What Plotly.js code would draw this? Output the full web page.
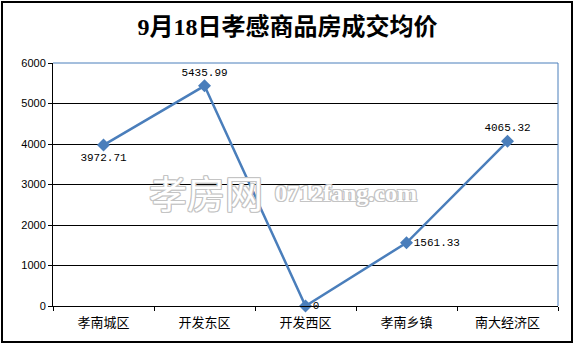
<!DOCTYPE html>
<html>
<head>
<meta charset="utf-8">
<script src="https://cdn.plot.ly/plotly-3.0.1.min.js"></script>
<style>html,body{margin:0;padding:0;background:#fff;}#chart{width:575px;height:344px;}</style>
</head>
<body>
<div id="chart"></div>
<script>
const titleText = "9月18日孝感商品房成交均价";
const categories = ["孝南城区", "开发东区", "开发西区", "孝南乡镇", "南大经济区"];
const avgPrice = [3972.71, 5435.99, 0, 1561.33, 4065.32];
const labelPositions = ["bottom center", "top center", "middle right", "middle right", "top center"];
const yTicks = [0, 1000, 2000, 3000, 4000, 5000, 6000];
const watermarkCN = "孝房网";
const watermarkEN = "0712fang.com";

const blue = "#4A7EBB";
const outline = "1px 1px 0 #c4c4c4, -1px -1px 0 #c4c4c4, 1px -1px 0 #c4c4c4, -1px 1px 0 #c4c4c4, 0 1px 0 #c4c4c4, 0 -1px 0 #c4c4c4, 1px 0 0 #c4c4c4, -1px 0 0 #c4c4c4";

const trace = {
  type: "scatter",
  mode: "lines+markers+text",
  x: categories,
  y: avgPrice,
  text: avgPrice.map(v => String(v)),
  texttemplate: "%{text}",
  textposition: labelPositions,
  textfont: {family: "Liberation Mono, DejaVu Sans Mono, monospace", size: 11, color: "#000"},
  line: {color: blue, width: 2.5},
  marker: {symbol: "diamond", size: 10, color: blue},
  cliponaxis: false,
  hoverinfo: "skip"
};

const layout = {
  width: 575, height: 344,
  margin: {l: 53, r: 17, t: 63, b: 38},
  paper_bgcolor: "#fff", plot_bgcolor: "#fff",
  showlegend: false,
  title: {
    text: titleText,
    font: {family: "Liberation Serif, Noto Sans CJK SC, serif", size: 24, color: "#000", weight: "bold"},
    x: 0.5, xanchor: "center", y: 1 - 27/344, yanchor: "middle"
  },
  xaxis: {
    type: "category",
    range: [-0.5, categories.length - 0.5],
    tickson: "boundaries",
    ticks: "outside", ticklen: 4, tickcolor: "#000", tickwidth: 1,
    ticklabelstandoff: 4,
    showline: true, linecolor: "#000", linewidth: 1,
    showgrid: false, zeroline: false,
    tickfont: {family: "Noto Sans CJK SC, sans-serif", size: 13, color: "#000"},
    fixedrange: true
  },
  yaxis: {
    range: [0, 6000],
    tickvals: yTicks,
    ticks: "outside", ticklen: 4, tickcolor: "#000", tickwidth: 1,
    showline: true, linecolor: "#000", linewidth: 1,
    showgrid: true, gridcolor: "#000", gridwidth: 1,
    zeroline: false,
    tickfont: {family: "Liberation Sans, Arial, sans-serif", size: 11, color: "#000"},
    fixedrange: true
  },
  shapes: [
    {type: "line", xref: "paper", yref: "paper", x0: 0, x1: 1, y0: 1, y1: 1, line: {color: blue, width: 1}},
    {type: "line", xref: "paper", yref: "paper", x0: 1, x1: 1, y0: 0, y1: 1, line: {color: blue, width: 1}},
    {type: "rect", xref: "paper", yref: "paper",
     x0: (2 - 53) / 505, x1: (572 - 53) / 505,
     y0: (306 - 342) / 243, y1: (306 - 2) / 243,
     line: {color: "#000", width: 2}, layer: "above"}
  ],
  annotations: [
    {text: watermarkCN, xref: "paper", yref: "paper", x: (147 - 53) / 505, y: (306 - 191) / 243,
     xanchor: "left", yanchor: "middle", showarrow: false,
     font: {family: "Noto Sans CJK SC, sans-serif", size: 38, color: "#fff", shadow: outline}},
    {text: watermarkEN, xref: "paper", yref: "paper", x: (273 - 53) / 505, y: (306 - 193) / 243,
     xanchor: "left", yanchor: "middle", showarrow: false,
     font: {family: "Liberation Serif, serif", size: 24, color: "#fff", weight: "bold", shadow: outline}}
  ]
};

Plotly.newPlot("chart", [trace], layout, {displayModeBar: false, staticPlot: true});
</script>
</body>
</html>
